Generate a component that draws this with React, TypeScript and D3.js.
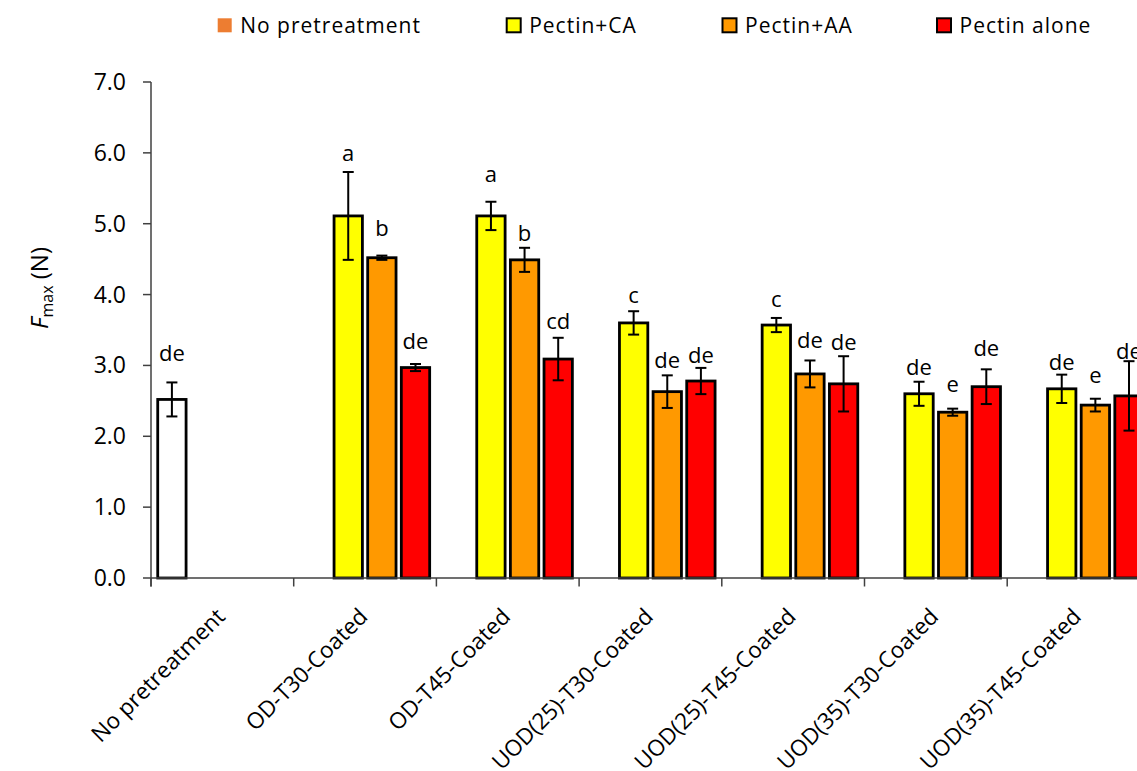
import React from "react";
import * as d3 from "d3";

const categories = [
  "No pretreatment",
  "OD-T30-Coated",
  "OD-T45-Coated",
  "UOD(25)-T30-Coated",
  "UOD(25)-T45-Coated",
  "UOD(35)-T30-Coated",
  "UOD(35)-T45-Coated",
];
const seriesNames = ["No pretreatment", "Pectin+CA", "Pectin+AA", "Pectin alone"];
const seriesFill = ["#FFFFFF", "#FFFF00", "#FF9900", "#FF0000"];
const legendSwatch = ["#ED7D31", "#FFFF00", "#FF9900", "#FF0000"];
const legendBorder = [false, true, true, true];

const noPreValues = [2.52, null, null, null, null, null, null];
const caValues = [null, 5.11, 5.11, 3.6, 3.57, 2.6, 2.67];
const aaValues = [null, 4.52, 4.49, 2.63, 2.88, 2.34, 2.44];
const aloneValues = [null, 2.97, 3.09, 2.78, 2.74, 2.7, 2.57];

const noPreErr = [0.24, null, null, null, null, null, null];
const caErr = [null, 0.62, 0.2, 0.165, 0.1, 0.17, 0.2];
const aaErr = [null, 0.03, 0.17, 0.23, 0.19, 0.05, 0.09];
const aloneErr = [null, 0.05, 0.3, 0.185, 0.39, 0.245, 0.49];

const noPreLetters = ["de", null, null, null, null, null, null];
const caLetters = [null, "a", "a", "c", "c", "de", "de"];
const aaLetters = [null, "b", "b", "de", "de", "e", "e"];
const aloneLetters = [null, "de", "cd", "de", "de", "de", "de"];

// value height of each letter's baseline
const noPreLetterAt = [3.06, null, null, null, null, null, null];
const caLetterAt = [null, 5.88, 5.59, 3.88, 3.82, 2.86, 2.94];
const aaLetterAt = [null, 4.83, 4.76, 2.97, 3.25, 2.62, 2.75];
const aloneLetterAt = [null, 3.23, 3.52, 3.04, 3.22, 3.13, 3.09];

const yTicks = [0, 1, 2, 3, 4, 5, 6, 7];

const allValues = [noPreValues, caValues, aaValues, aloneValues];
const allErr = [noPreErr, caErr, aaErr, aloneErr];
const allLetters = [noPreLetters, caLetters, aaLetters, aloneLetters];
const allLetterAt = [noPreLetterAt, caLetterAt, aaLetterAt, aloneLetterAt];

const W = 1137;
const H = 771;
const FONT = "'Open Sans', sans-serif";
const legendX = [217.7, 506.7, 722.5, 937];

export default function App() {
  const x = d3
    .scaleBand<string>()
    .domain(categories)
    .range([151, 151 + 7 * 142.7])
    .padding(0);
  const inner = d3
    .scaleBand<string>()
    .domain(seriesNames)
    .range([0, x.bandwidth()])
    .paddingInner(0.157)
    .paddingOuter(0.2);
  const y = d3.scaleLinear().domain([0, 7]).range([578, 82]);
  const axisColor = "#404040";
  const bw = inner.bandwidth();

  const bars: React.ReactNode[] = [];
  allValues.forEach((vals, s) => {
    vals.forEach((v, c) => {
      if (v == null) return;
      const x0 = (x(categories[c]) as number) + (inner(seriesNames[s]) as number);
      const cx = x0 + bw / 2;
      const e = allErr[s][c] as number;
      const lt = allLetters[s][c];
      const la = allLetterAt[s][c];
      bars.push(
        <g key={`b${s}-${c}`}>
          <rect
            x={x0}
            y={y(v)}
            width={bw}
            height={y(0) - y(v)}
            fill={seriesFill[s]}
            stroke="#000"
            strokeWidth={2.8}
          />
          <line x1={cx} x2={cx} y1={y(v + e)} y2={y(v - e)} stroke="#000" strokeWidth={2} />
          <line x1={cx - 5.5} x2={cx + 5.5} y1={y(v + e)} y2={y(v + e)} stroke="#000" strokeWidth={2} />
          <line x1={cx - 5.5} x2={cx + 5.5} y1={y(v - e)} y2={y(v - e)} stroke="#000" strokeWidth={2} />
          {lt && la != null && (
            <text x={cx} y={y(la)} textAnchor="middle" fontSize={22} fontFamily={FONT} fill="#000">
              {lt}
            </text>
          )}
        </g>
      );
    });
  });

  const boundaries = categories.map((c) => x(c) as number).concat([(x(categories[6]) as number) + x.bandwidth()]);

  return (
    <svg
      width={W}
      height={H}
      style={{ position: "fixed", left: 0, top: 0, background: "#fff" }}
      fontFamily={FONT}
    >
      <rect x={0} y={0} width={W} height={H} fill="#fff" />
      {/* legend */}
      {seriesNames.map((n, i) => (
        <g key={n}>
          <rect
            x={legendX[i]}
            y={18.3}
            width={14}
            height={14}
            fill={legendSwatch[i]}
            stroke={legendBorder[i] ? "#000" : "none"}
            strokeWidth={legendBorder[i] ? 2 : 0}
          />
          <text x={legendX[i] + 22.5} y={32.5} fontSize={21} letterSpacing={1} fill="#000">
            {n}
          </text>
        </g>
      ))}
      {/* y axis */}
      <line x1={151} x2={151} y1={y(7)} y2={586.5} stroke={axisColor} strokeWidth={1.5} />
      {yTicks.map((t) => (
        <g key={t}>
          <line x1={143} x2={151} y1={y(t)} y2={y(t)} stroke={axisColor} strokeWidth={1.5} />
          <text x={126} y={y(t) + 8} textAnchor="end" fontSize={23} fill="#000">
            {t.toFixed(1)}
          </text>
        </g>
      ))}
      {/* y title */}
      <text transform={`translate(48,${288}) rotate(-90)`} textAnchor="middle" fontSize={24} fill="#000">
        <tspan fontStyle="italic">F</tspan>
        <tspan fontSize={16} dy={5}>max</tspan>
        <tspan dy={-5}> (N)</tspan>
      </text>
      {bars}
      {/* x axis */}
      <line x1={151} x2={W} y1={y(0)} y2={y(0)} stroke={axisColor} strokeWidth={1.5} />
      {boundaries.map((b, i) => (
        <line key={i} x1={b} x2={b} y1={y(0)} y2={586.5} stroke={axisColor} strokeWidth={1.5} />
      ))}
      {categories.map((c) => {
        const cx = (x(c) as number) + x.bandwidth() / 2 + 4;
        return (
          <text
            key={c}
            transform={`translate(${cx},618) rotate(-45)`}
            textAnchor="end"
            fontSize={22.5}
            fill="#000"
          >
            {c}
          </text>
        );
      })}
    </svg>
  );
}
